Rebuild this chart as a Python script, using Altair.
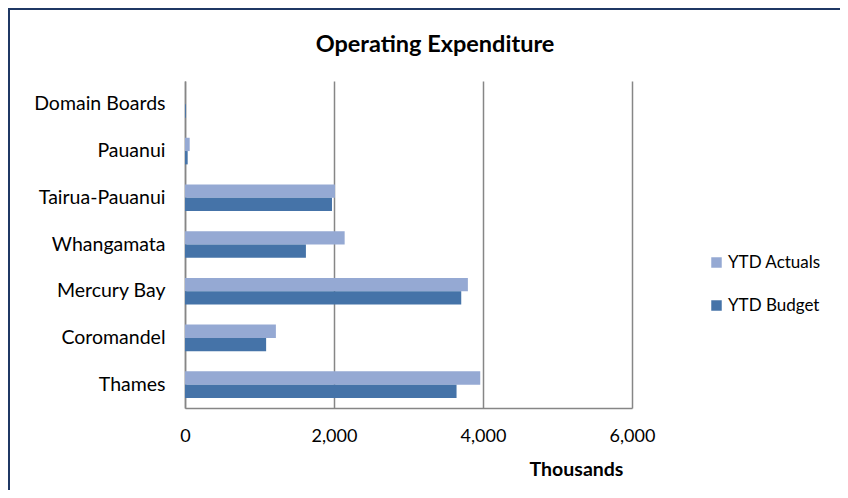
import altair as alt
import pandas as pd

categories = ["Domain Boards", "Pauanui", "Tairua-Pauanui", "Whangamata",
              "Mercury Bay", "Coromandel", "Thames"]
ytd_actuals = [0, 63, 2013, 2143, 3797, 1220, 3963]
ytd_budget = [12, 36, 1973, 1623, 3708, 1089, 3645]
series = ["YTD Actuals", "YTD Budget"]
x_ticks = [0, 2000, 4000, 6000]
chart_title = "Operating Expenditure"

rows = []
for c, a, b in zip(categories, ytd_actuals, ytd_budget):
    rows.append({"category": c, "series": series[0], "value": a})
    rows.append({"category": c, "series": series[1], "value": b})
df = pd.DataFrame(rows)

FONT = "Lato"
GRID = "#868686"

bars = alt.Chart(df).mark_bar().encode(
    y=alt.Y("category:N", sort=categories,
            scale=alt.Scale(paddingInner=0.43, paddingOuter=0.215),
            axis=alt.Axis(title=None, ticks=False, labelPadding=20, labelFontSize=19.5,
                          labelColor="#000", domainColor=GRID, domainWidth=1.5,
                          grid=False, labelFont=FONT)),
    yOffset=alt.YOffset("series:N", sort=series),
    x=alt.X("value:Q", scale=alt.Scale(domain=[0, 6000], nice=False),
            axis=alt.Axis(values=x_ticks, format=",.0f", title="Thousands", titleFont=FONT,
                          titleFontSize=19.5, titleFontWeight="bold", titleX=391, titleY=61,
                          titleBaseline="middle", titleColor="#000", labelFontSize=18,
                          labelColor="#000", labelPadding=19, ticks=False, grid=True,
                          gridColor=GRID, gridWidth=1.5, domainColor=GRID, domainWidth=1.5,
                          labelFont=FONT, labelFlush=False)),
    color=alt.Color("series:N", sort=series,
                    scale=alt.Scale(domain=series, range=["#95A9D3", "#4573A8"]),
                    legend=alt.Legend(title=None, orient="none", legendX=523, legendY=173,
                                      symbolType="square", symbolSize=110, labelFontSize=17,
                                      labelFont=FONT, labelColor="#000", rowPadding=25,
                                      labelOffset=3, padding=0, symbolStrokeWidth=0)),
)

one = pd.DataFrame({"t": [chart_title]})
title_mark = alt.Chart(one).mark_text(font=FONT, fontSize=23.5, fontWeight="bold", color="#000",
                                      baseline="middle", align="center").encode(
    text="t:N", x=alt.value(250), y=alt.value(-36))

top_border = alt.Chart(one).mark_rule(color="#1F3864", strokeWidth=2).encode(
    x=alt.value(-177), x2=alt.value(700), y=alt.value(-72))
left_border = alt.Chart(one).mark_rule(color="#1F3864", strokeWidth=2).encode(
    x=alt.value(-176), y=alt.value(-73), y2=alt.value(420))

chart = alt.layer(bars, title_mark, top_border, left_border).properties(
    width=447, height=327,
    background="white",
    autosize=alt.AutoSizeParams(type="none"),
    padding={"left": 177, "top": 73, "right": 208, "bottom": 82},
).configure_view(stroke=None)

chart.save("out.html", embed_options={"renderer": "svg", "actions": False})
